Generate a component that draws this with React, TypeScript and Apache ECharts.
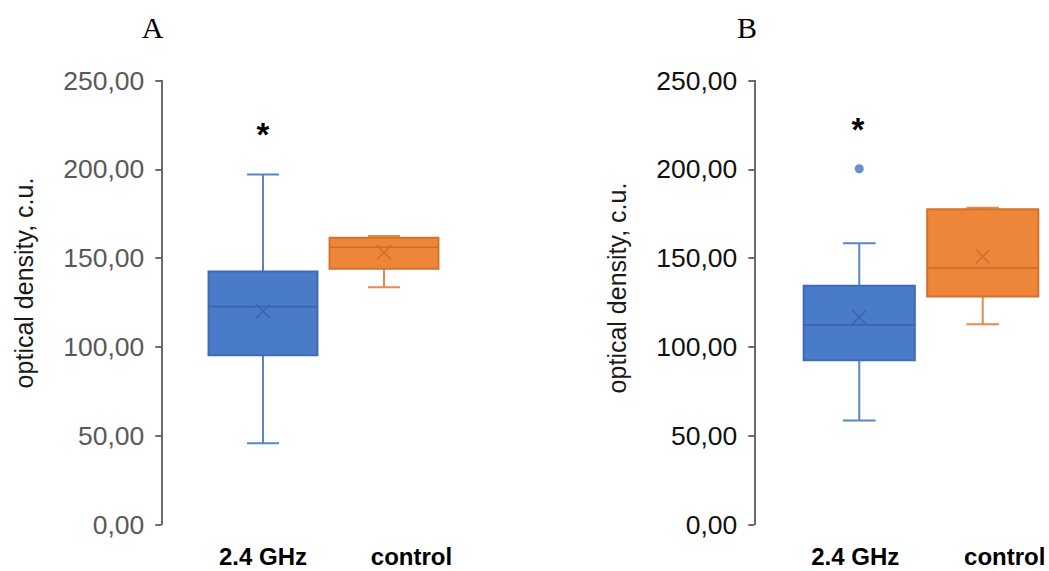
import React, { useEffect, useRef } from "react";
import * as echarts from "echarts";

// categories
const categories = ["2.4 GHz", "control"];
// box statistics: [min, q1, median, q3, max, mean]
const panelA_ghz = [45.8, 95.3, 122.7, 142.5, 197.1, 120.1];
const panelA_control = [133.6, 144.0, 156.1, 161.4, 162.5, 153.2];
const panelB_ghz = [58.6, 92.5, 112.4, 134.4, 158.4, 116.7];
const panelB_control = [112.8, 128.4, 144.5, 177.5, 178.3, 150.9];
const panelB_ghzOutliers = [200.3];
const yTicks = { min: 0, max: 250, interval: 50 };
const panelTitles = ["A", "B"];
const yTitle = "optical density, c.u.";

const palettes = [
  { fill: "#4A7BC8", border: "#3F6AB4", whisker: "#5B84C9", inner: "#3C64AA" },
  { fill: "#ED8638", border: "#D57128", whisker: "#E88A4C", inner: "#CF6E2C" },
];

const fmt = (v: number) => v.toFixed(2).replace(".", ",");

const renderBox = (params: any, api: any) => {
  const idx = api.value(0);
  const vals = [1, 2, 3, 4, 5, 6].map((i) => api.value(i));
  const band = api.size([1, 0])[0];
  const bw = band * 0.9;
  const cw = band * 0.265;
  const cx = api.coord([idx, vals[0]])[0];
  const y = vals.map((v: number) => api.coord([idx, v])[1]);
  const [yMin, yQ1, yMed, yQ3, yMax, yMean] = y;
  const c = palettes[idx];
  const ws = { stroke: c.whisker, lineWidth: 2 };
  const m = 7;
  return {
    type: "group",
    children: [
      { type: "line", shape: { x1: cx, y1: yQ3, x2: cx, y2: yMax }, style: ws },
      { type: "line", shape: { x1: cx - cw / 2, y1: yMax, x2: cx + cw / 2, y2: yMax }, style: ws },
      { type: "line", shape: { x1: cx, y1: yQ1, x2: cx, y2: yMin }, style: ws },
      { type: "line", shape: { x1: cx - cw / 2, y1: yMin, x2: cx + cw / 2, y2: yMin }, style: ws },
      {
        type: "rect",
        shape: { x: cx - bw / 2, y: yQ3, width: bw, height: yQ1 - yQ3 },
        style: { fill: c.fill, stroke: c.border, lineWidth: 2 },
      },
      { type: "line", shape: { x1: cx - bw / 2, y1: yMed, x2: cx + bw / 2, y2: yMed }, style: { stroke: c.inner, lineWidth: 1.6 } },
      { type: "line", shape: { x1: cx - m, y1: yMean - m, x2: cx + m, y2: yMean + m }, style: { stroke: c.inner, lineWidth: 1.6 } },
      { type: "line", shape: { x1: cx - m, y1: yMean + m, x2: cx + m, y2: yMean - m }, style: { stroke: c.inner, lineWidth: 1.6 } },
    ],
  };
};

const yAxisBase = (gridIndex: number, offset: number, color: string) => ({
  type: "value",
  gridIndex,
  min: yTicks.min,
  max: yTicks.max,
  interval: yTicks.interval,
  offset,
  splitLine: { show: false },
  axisLine: { show: true, lineStyle: { color: "#3a3a3a", width: 1.5 } },
  axisTick: { show: true, length: 6, lineStyle: { color: "#3a3a3a", width: 1.5 } },
  axisLabel: {
    margin: 17,
    color,
    fontFamily: "Liberation Sans",
    fontSize: 26.5,
    formatter: (v: number) => fmt(v),
  },
});

const xAxisBase = (gridIndex: number, padControl: number, padGhz: number) => ({
  type: "category",
  gridIndex,
  data: categories,
  axisLine: { show: false },
  axisTick: { show: false },
  axisLabel: {
    margin: 20,
    interval: 0,
    formatter: (v: string, i: number) => (i === 0 ? `{a|${v}}` : `{b|${v}}`),
    rich: {
      a: { fontFamily: "Liberation Sans", fontWeight: "bold", fontSize: 24, color: "#000", padding: [0, padGhz, 0, 0] },
      b: { fontFamily: "Liberation Sans", fontWeight: "bold", fontSize: 24, color: "#000", padding: [0, 0, 0, padControl] },
    },
  },
});

export default function App() {
  const ref = useRef<HTMLDivElement>(null);
  useEffect(() => {
    if (!ref.current) return;
    const chart = echarts.init(ref.current, null, { renderer: "svg" });
    chart.setOption({
      animation: false,
      backgroundColor: "#fff",
      grid: [
        { left: 202.5, top: 80.5, width: 242, height: 444 },
        { left: 797.5, top: 80.5, width: 247, height: 444 },
      ],
      xAxis: [xAxisBase(0, 55, 0), xAxisBase(1, 44, 8)],
      yAxis: [yAxisBase(0, 41.2, "#595959"), yAxisBase(1, 43.2, "#111111")],
      series: [
        {
          type: "custom",
          xAxisIndex: 0,
          yAxisIndex: 0,
          renderItem: renderBox,
          encode: { x: 0, y: [1, 2, 3, 4, 5, 6] },
          data: [
            [0, ...panelA_ghz],
            [1, ...panelA_control],
          ],
        },
        {
          type: "custom",
          xAxisIndex: 1,
          yAxisIndex: 1,
          renderItem: renderBox,
          encode: { x: 0, y: [1, 2, 3, 4, 5, 6] },
          data: [
            [0, ...panelB_ghz],
            [1, ...panelB_control],
          ],
        },
        {
          type: "scatter",
          xAxisIndex: 1,
          yAxisIndex: 1,
          symbol: "circle",
          symbolSize: 9,
          itemStyle: { color: "#4472C4" },
          data: panelB_ghzOutliers.map((v) => [0, v]),
        },
      ],
      graphic: [
        {
          type: "text",
          x: 152.5,
          y: 27,
          style: { text: panelTitles[0], font: "30px 'Liberation Serif'", fill: "#000", textAlign: "center", textVerticalAlign: "middle" },
        },
        {
          type: "text",
          x: 747,
          y: 27,
          style: { text: panelTitles[1], font: "30px 'Liberation Serif'", fill: "#000", textAlign: "center", textVerticalAlign: "middle" },
        },
        {
          type: "text",
          x: 263,
          y: 134,
          style: { text: "*", font: "bold 33px 'Liberation Sans'", fill: "#000", textAlign: "center", textVerticalAlign: "middle" },
        },
        {
          type: "text",
          x: 858,
          y: 129,
          style: { text: "*", font: "bold 33px 'Liberation Sans'", fill: "#000", textAlign: "center", textVerticalAlign: "middle" },
        },
        {
          type: "text",
          x: 24,
          y: 283,
          rotation: Math.PI / 2,
          style: { text: yTitle, font: "25px 'Liberation Sans'", fill: "#1a1a1a", textAlign: "center", textVerticalAlign: "middle" },
        },
        {
          type: "text",
          x: 617,
          y: 288,
          rotation: Math.PI / 2,
          style: { text: yTitle, font: "25px 'Liberation Sans'", fill: "#1a1a1a", textAlign: "center", textVerticalAlign: "middle" },
        },
      ],
    });
    return () => chart.dispose();
  }, []);
  return (
    <div
      ref={ref}
      style={{ position: "fixed", left: 0, top: 0, width: 1049, height: 571 }}
    />
  );
}
